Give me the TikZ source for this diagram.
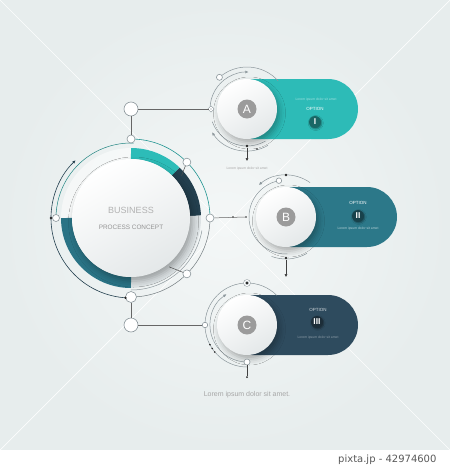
\documentclass[tikz,border=0pt]{standalone}
\usepackage{fontspec}
\setmainfont{Liberation Sans}
\newfontfamily\wmfont{DejaVu Sans}
\usetikzlibrary{arrows.meta,shadows.blur,calc}
\definecolor{bgin}{HTML}{F4F7F7}
\definecolor{bgout}{HTML}{E7EDED}
\definecolor{rteal}{HTML}{2DBCB8}
\definecolor{rnavy}{HTML}{233F4E}
\definecolor{rblue}{HTML}{2A7385}
\definecolor{rgray}{HTML}{DCE2E4}
\definecolor{acol}{HTML}{2DBBB7}
\definecolor{bcol}{HTML}{2C7889}
\definecolor{ccol}{HTML}{2E4B5E}
\definecolor{lgray}{HTML}{8C979C}
\definecolor{lettergray}{HTML}{9B9B9B}
\definecolor{diskb}{HTML}{E4E8E9}
\tikzset{
  disk/.style={circle, inner sep=0pt, top color=white, bottom color=diskb, shading angle=30,
    blur shadow={shadow xshift=2.5pt, shadow yshift=-4pt, shadow blur radius=6pt, shadow opacity=30}},
  letterbox/.style={circle, inner sep=0pt, minimum size=19pt, fill=lettergray, text=white, font=\fontsize{12}{12}\selectfont},
  hollow/.style={circle, draw=lgray, line width=0.6pt, fill=white, inner sep=0pt, minimum size=#1},
  hollow/.default=8pt,
  bdot/.style={circle, fill=black!85, inner sep=0pt, minimum size=#1},
  bdot/.default=2.6pt,
  ringdot/.style={circle, draw=lgray, line width=0.5pt, fill=black!85, inner sep=0pt, minimum size=3.5pt,
    double=white, double distance=1.2pt},
  thin/.style={draw=lgray, line width=0.5pt},
  tarrow/.style={-{Triangle[length=3pt,width=2.6pt]}},
  opt/.style={font=\fontsize{4.5}{5}\selectfont, text=white},
  tiny/.style={font=\fontsize{3.4}{4}\selectfont},
  icon/.style={circle, inner sep=0pt, minimum size=12pt, text=white, font=\bfseries\fontsize{8.5}{8.5}\selectfont,
    blur shadow={shadow xshift=0.8pt, shadow yshift=-1pt, shadow blur radius=1.5pt, shadow opacity=40}},
}
\begin{document}
\begin{tikzpicture}[x=1pt,y=1pt]
\useasboundingbox (0,0) rectangle (450,-469);
% background
\shade[inner color=bgin, outer color=bgout] (0,0) rectangle (450,-450);
\fill[white] (0,-450) rectangle (450,-469);
\draw[white, line width=0.7pt, opacity=0.9] (0,0) -- (450,-450);
\draw[white, line width=0.7pt, opacity=0.9] (450,0) -- (0,-450);

% ===== main circle =====
\coordinate (M) at (131,-218);
\draw[line width=11pt, white, opacity=0.5] (M) ++(90:64.5) arc[start angle=90, end angle=180, radius=64.5];
\draw[line width=11pt, rteal] (M) ++(90:64.5) arc[start angle=90, end angle=46, radius=64.5];
\draw[line width=11pt, rnavy] (M) ++(46:64.5) arc[start angle=46, end angle=2, radius=64.5];
\draw[line width=11pt, rgray] (M) ++(2:64.5) arc[start angle=2, end angle=-90, radius=64.5];
\draw[line width=11pt, rblue] (M) ++(180:64.5) arc[start angle=180, end angle=270, radius=64.5];
% thin arcs
\draw[rteal!80!black, line width=0.6pt] (M) ++(90:79) arc[start angle=90, end angle=0, radius=79];
\draw[thin, draw=lgray!80!black] (M) ++(0:79) arc[start angle=0, end angle=-90, radius=79];
\draw[rteal!70!black, line width=0.5pt] (M) ++(88:75) arc[start angle=88, end angle=180, radius=75];
\draw[rnavy, line width=0.6pt, tarrow] (M) ++(265:80) arc[start angle=265, end angle=134, radius=80];
\draw[thin] (M) ++(-90:72) arc[start angle=-90, end angle=-10, radius=72];
% main disk
\node[disk, minimum size=118pt] (main) at (M) {};
\node[font=\fontsize{9}{10}\selectfont, text=black!30] (bus) at (131,-210) {BUSINESS};
\node[font=\fontsize{6.4}{7}\selectfont, text=black!42] (proc) at (131,-227) {PROCESS CONCEPT};
% ring nodes
\node[hollow=8pt] (ntop) at ($(M)+(90:79)$) {};
\node[hollow=8pt] (ntr) at ($(M)+(45:79)$) {};
\node[hollow=8pt] (nr) at ($(M)+(0:79)$) {};
\node[hollow=8pt] (nbr) at ($(M)+(-45:79)$) {};
\node[hollow=11pt] (nbot) at ($(M)+(-90:79)$) {};
\node[hollow=7pt] (nleft) at ($(M)+(180:75)$) {};
\node[bdot] (dleft) at ($(M)+(180:80)$) {};
\node[bdot] (dbot) at ($(M)+(-94:80)$) {};
\draw[thin, draw=black!70] (nbr) -- ($(M)+(-52:62)$);
\draw[thin, draw=black!70] (ntr) -- ($(M)+(40:66)$);
% connector circles
\node[hollow=14pt] (ctop) at (131,-109) {};
\node[hollow=14pt] (cbot) at (131,-325) {};

% ===== A =====
\coordinate (A) at (247,-109);
\fill[acol, rounded corners=30pt] (222,-79) rectangle (358,-139);
\draw[thin] (A) ++(131:42) arc[start angle=131, end angle=42, radius=42];
\draw[thin, tarrow] (A) ++(180:37) arc[start angle=180, end angle=88, radius=37];
\draw[thin, tarrow] (A) ++(300:42) arc[start angle=300, end angle=214, radius=42];
\draw[thin] (A) ++(200:37) arc[start angle=200, end angle=300, radius=37];
\node[disk, minimum size=60pt] (dA) at (A) {};
\node[letterbox] (lA) at (A) {A};
\node[hollow=6pt] (hA) at ($(A)+(131:42)$) {};
\node[ringdot] (rA) at (211,-109) {};
\node[bdot] (bA) at (247,-146) {};
\node[bdot=1.8pt] (sA) at (257,-149) {};
\coordinate (eA) at (247,-161);
\draw[thin, draw=black!75, tarrow] (bA) -- (eA);
\node[tiny, text=acol!45!white] (loA) at (316,-100) {Lorem ipsum dolor sit amet};
\node[opt] (oA) at (315,-109) {OPTION};
\node[icon, fill=acol!55!black] (iA) at (315,-122) {I};
\node[tiny, text=black!35] (ltA) at (247,-169) {Lorem ipsum dolor sit amet};

% ===== B =====
\coordinate (B) at (286,-217);
\fill[bcol, rounded corners=30pt] (261,-187) rectangle (397,-247);
\draw[thin, tarrow] (B) ++(55:42) arc[start angle=55, end angle=130, radius=42];
\draw[thin] (B) ++(101:37) arc[start angle=101, end angle=272, radius=37];
\draw[thin] (B) ++(250:42) arc[start angle=250, end angle=300, radius=42];
\node[disk, minimum size=60pt] (dB) at (B) {};
\node[letterbox] (lB) at (B) {B};
\node[bdot] (tB) at ($(B)+(90:42)$) {};
\node[hollow=5.5pt] (hB) at ($(B)+(101:37)$) {};
\node[bdot] (bB) at (286,-258) {};
\coordinate (eB) at (286,-277);
\draw[thin, draw=black!75, tarrow] (bB) -- (eB);
\node[bdot=1.8pt] (m1) at (233,-217) {};
\node[bdot=1.8pt] (m2) at (246,-217) {};
\draw[thin, draw=black!60] (nr) -- (m2);
\node[opt] (oB) at (358,-203) {OPTION};
\node[icon, fill=bcol!55!black] (iB) at (358,-216) {II};
\node[tiny, text=bcol!35!white] (loB) at (358,-229) {Lorem ipsum dolor sit amet};

% ===== C =====
\coordinate (C) at (247,-325);
\fill[ccol, rounded corners=30pt] (222,-295) rectangle (358,-355);
\draw[thin] (C) ++(45:42) arc[start angle=45, end angle=270, radius=42];
\draw[thin, tarrow] (C) ++(205:37) arc[start angle=205, end angle=124, radius=37];
\draw[thin] (C) ++(205:37) arc[start angle=205, end angle=275, radius=37];
\node[disk, minimum size=60pt] (dC) at (C) {};
\node[letterbox] (lC) at (C) {C};
\node[ringdot, minimum size=5pt] (rC) at ($(C)+(90:42)$) {};
\node[hollow=5.5pt] (nC) at ($(C)+(180:42)$) {};
\node[hollow=6pt] (hC) at ($(C)+(270:37)$) {};
\node[bdot=1.8pt] (c1) at ($(C)+(208:42)$) {};
\node[bdot=1.8pt] (c2) at ($(C)+(214:42)$) {};
\node[bdot=1.8pt] (c3) at ($(C)+(220:42)$) {};
\node[bdot=2pt] (eC) at (247,-377) {};
\draw[thin, draw=black!75] (hC) -- (eC);
\node[opt, text=white!80!ccol] (oC) at (318,-310) {OPTION};
\node[icon, fill=ccol!60!black] (iC) at (317,-322) {III};
\node[tiny, text=ccol!55!white] (loC) at (318,-338) {Lorem ipsum dolor sit amet};

% connectors
\draw[thin, draw=black!60] (ntop) -- (ctop);
\draw[thin, draw=black!60] (ctop) -- (rA);
\draw[thin, draw=black!60] (nbot) -- (cbot);
\draw[thin, draw=black!60] (cbot) -- (nC);

% bottom caption
\node[font=\fontsize{7}{8}\selectfont, text=black!35] (cap) at (247,-395) {Lorem ipsum dolor sit amet.};
\node[anchor=east, font=\wmfont\fontsize{10}{11}\selectfont, text=black!65] (wm) at (440,-460) {pixta.jp - 42974600};
\end{tikzpicture}
\end{document}
